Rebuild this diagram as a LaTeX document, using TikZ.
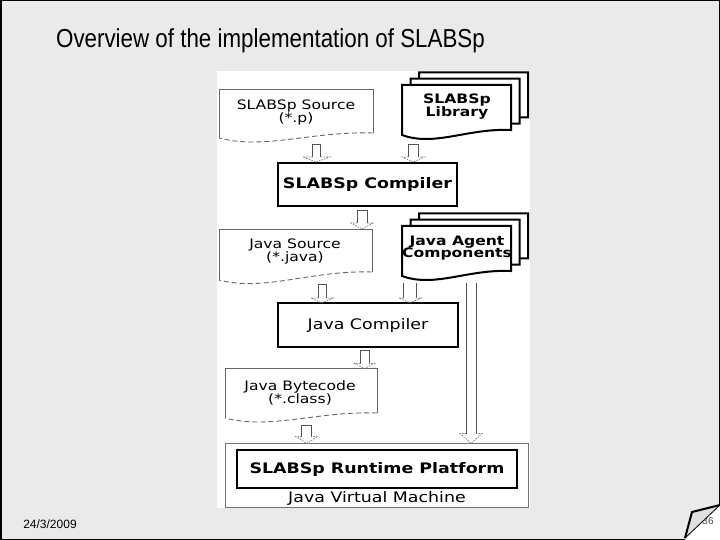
\documentclass[tikz,border=0pt]{standalone}
\usepackage{fontspec}
\usetikzlibrary{calc}
\newfontfamily\diafont[FakeStretch=1.2]{DejaVu Sans}
\newfontfamily\titlefont[FakeStretch=0.86]{Liberation Sans}
\newfontfamily\datefont{Liberation Sans}
\definecolor{slidebg}{HTML}{EAEAEA}
\definecolor{docgrey}{HTML}{666666}
\definecolor{shaftgrey}{HTML}{555555}
\definecolor{headgrey}{HTML}{808080}
% document shape: x y w hl hr
\newcommand\docwave[5]{({#1+#3},{#2+#5}) .. controls ({#1+0.6*#3},{#2+#5-2}) and ({#1+0.3*#3},{#2+#4+12}) .. ({#1},{#2+#4})}
\newcommand\docpath[5]{({#1},{#2}) -- ({#1+#3},{#2}) -- \docwave{#1}{#2}{#3}{#4}{#5} -- cycle}
% hollow block arrow: from, tip, head length, shaft half, head half
\newcommand\hollow[5]{%
 \draw[shaftline] let \p1=(#1), \p2=(#2) in (\x1-#4pt,\y2+#3pt) -- (\x1-#4pt,\y1) -- (\x1+#4pt,\y1) -- (\x1+#4pt,\y2+#3pt);
 \draw[headline] let \p1=(#1), \p2=(#2) in (\x1-#4pt,\y2+#3pt) -- (\x1-#5pt,\y2+#3pt) -- (\x1,\y2) -- (\x1+#5pt,\y2+#3pt) -- (\x1+#4pt,\y2+#3pt);}
\newcommand\hollowopen[5]{%
 \draw[shaftline] let \p1=(#1), \p2=(#2) in (\x1-#4pt,\y2+#3pt) -- (\x1-#4pt,\y1);
 \draw[shaftline] let \p1=(#1), \p2=(#2) in (\x1+#4pt,\y1) -- (\x1+#4pt,\y2+#3pt);
 \draw[headline] let \p1=(#1), \p2=(#2) in (\x1-#4pt,\y2+#3pt) -- (\x1-#5pt,\y2+#3pt) -- (\x1,\y2) -- (\x1+#5pt,\y2+#3pt) -- (\x1+#4pt,\y2+#3pt);}
\begin{document}
\begin{tikzpicture}[x=1pt,y=-1pt,
  docline/.style={draw=docgrey,line width=0.9pt},
  stackdoc/.style={draw=black,line width=2pt,fill=white,line join=miter},
  shaftline/.style={draw=shaftgrey,line width=0.8pt},
  headline/.style={draw=headgrey,line width=0.8pt,dash pattern=on 1.5pt off 1.2pt},
  doctxt/.style={font=\diafont\fontsize{13}{13}\selectfont,align=center,inner sep=0pt},
  boldtxt/.style={font=\diafont\bfseries\fontsize{13}{12.5}\selectfont,align=center,inner sep=0pt},
  thickbox/.style={draw=black,line width=2.5pt,fill=white,inner sep=0pt,font=\diafont\bfseries\fontsize{14.5}{17}\selectfont},
  thinbox/.style={draw=black,line width=1.1pt,fill=white,inner sep=0pt,font=\diafont\fontsize{14.5}{17}\selectfont},
  vmbox/.style={draw=black!55,line width=1pt,fill=white,inner sep=0pt},
  plain/.style={inner sep=0pt,font=\diafont\fontsize{14.5}{17}\selectfont}]
\useasboundingbox (0,0) rectangle (720,540);
% slide background
\fill[slidebg] (0,0) rectangle (720,540);
\fill[white] (720,505) -- (720,540) -- (685,540) -- cycle;
\draw[black,line width=1.5pt] (685,539.25) -- (0.75,539.25) -- (0.75,0.75) -- (719.25,0.75) -- (719.25,505);
% title and footer
\node[inner sep=0pt,font=\titlefont\fontsize{26}{30}\selectfont] (title) at (270.5,41) {Overview of the implementation of SLABSp};
\node[inner sep=0pt,font=\datefont\fontsize{12}{14}\selectfont] (date) at (50,524) {24/3/2009};
\node[inner sep=0pt,font=\datefont\fontsize{10}{12}\selectfont,text=black!70] (pnum) at (708,521) {36};
\fill[black!12] (692,512) -- (720,505) -- (685,538) -- cycle;
\draw[black,line width=2pt,line join=miter] (720,505) -- (692,512) -- (685,538);
\draw[black,line width=0.8pt] (720,505) -- (685,538);
% diagram area
\fill[white] (217,71) rectangle (530,508);
% SLABSp Source
\fill[white] \docpath{219}{89}{154}{49}{44};
\draw[docline] (219,138) -- (219,89) -- (373,89) -- (373,133);
\draw[docline,dash pattern=on 5pt off 3pt] \docwave{219}{89}{154}{49}{44};
\node[doctxt] (srcT) at (296,112.5) {SLABSp Source\\(*.p)};
% SLABSp Library
\draw[stackdoc] \docpath{419}{72.4}{109}{50}{45};
\draw[stackdoc] \docpath{410.5}{78.7}{109}{50}{45};
\draw[stackdoc] \docpath{402}{85}{109}{50}{45};
\node[boldtxt] (libT) at (457,106.5) {SLABSp\\Library};
% SLABSp Compiler
\node[thickbox,minimum width=179,minimum height=43] (comp) at (367.5,184.5) {SLABSp Compiler};
% Java Source
\fill[white] \docpath{219}{229}{153}{51}{43};
\draw[docline] (219,280) -- (219,229) -- (372,229) -- (372,272);
\draw[docline,dash pattern=on 5pt off 3pt] \docwave{219}{229}{153}{51}{43};
\node[doctxt] (jsrcT) at (295,252) {Java Source\\(*.java)};
% Java Agent Components
\draw[stackdoc] \docpath{419}{213.4}{109}{50}{45};
\draw[stackdoc] \docpath{410.5}{219.7}{109}{50}{45};
\draw[stackdoc] \docpath{402}{226}{109}{50}{45};
\node[boldtxt] (agentT) at (457,248) {Java Agent\\Components};
% Java Compiler
\node[thinbox,minimum width=180,minimum height=44] (jcomp) at (368,325) {Java Compiler};
% Java Bytecode
\fill[white] \docpath{225}{368}{152}{50}{45};
\draw[docline] (225,418) -- (225,368) -- (377,368) -- (377,413);
\draw[docline,dash pattern=on 5pt off 3pt] \docwave{225}{368}{152}{50}{45};
\node[doctxt] (bcT) at (300,392.5) {Java Bytecode\\(*.class)};
% Java Virtual Machine and Runtime Platform
\node[vmbox,minimum width=303,minimum height=64] (jvm) at (376.5,475) {};
\node[thickbox,minimum width=280,minimum height=38] (rt) at (377,469) {SLABSp Runtime Platform};
\node[plain] (jvmT) at (377,498.5) {Java Virtual Machine};
% connectors (hollow block arrows)
\coordinate (a1s) at (316.3,144); \coordinate (a1t) at (316.3,162);
\coordinate (a2s) at (413.3,144); \coordinate (a2t) at (413.3,162);
\coordinate (a3s) at (362,210);   \coordinate (a3t) at (362,229);
\coordinate (a4s) at (322,284);   \coordinate (a4t) at (322,303);
\coordinate (a5s) at (410,283);   \coordinate (a5t) at (410,303);
\coordinate (a6s) at (364.5,350); \coordinate (a6t) at (364.5,368.5);
\coordinate (a7s) at (306.7,425); \coordinate (a7t) at (306.7,443.5);
\coordinate (a8s) at (471,283);   \coordinate (a8t) at (471,443.5);
\hollow{a1s}{a1t}{5}{3.7}{13.5}
\hollow{a2s}{a2t}{5}{5}{11}
\hollow{a3s}{a3t}{6}{5}{11}
\hollow{a4s}{a4t}{5}{4}{11}
\hollowopen{a5s}{a5t}{5}{6.7}{11}
\hollow{a6s}{a6t}{5}{4.5}{10}
\hollow{a7s}{a7t}{7}{5}{11}
\hollowopen{a8s}{a8t}{10}{5}{11}
\end{tikzpicture}
\end{document}
